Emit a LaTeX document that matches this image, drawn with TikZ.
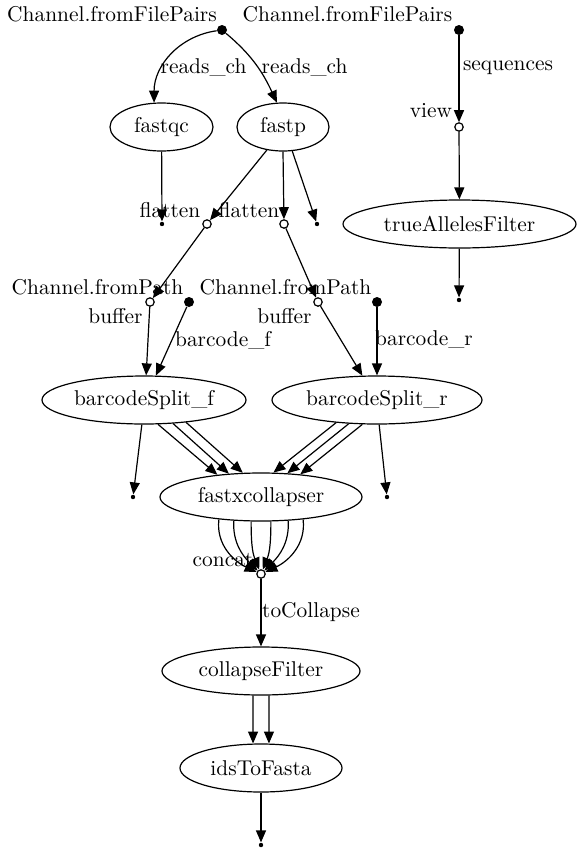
\documentclass[tikz,border=0pt]{standalone}
\usetikzlibrary{arrows.meta,shapes.geometric}
\newcommand{\dagfont}{\fontsize{10.7}{12}\selectfont}
\tikzset{
  proc/.style={draw, ellipse, line width=0.6pt, minimum height=24pt, inner sep=0pt, font=\dagfont},
  src/.style={circle, fill, inner sep=0pt, minimum size=5pt},
  op/.style={circle, draw, fill=white, line width=0.6pt, inner sep=0pt, minimum size=4.2pt},
  sink/.style={circle, fill, inner sep=0pt, minimum size=2.2pt},
  tag/.style={inner sep=0pt, font=\dagfont},
  flow/.style={-{Triangle[length=6pt,width=5pt]}, line width=0.6pt}
}

\begin{document}
\begin{tikzpicture}[x=0.5pt, y=-0.5pt]
  \useasboundingbox (0,0) rectangle (581,852);
  \node[src] (pairsA) at (222,30) {};
  \node[src] (pairsB) at (459,30) {};
  \node[proc, minimum width=51.5pt] (fastqc) at (161.5,127) {fastqc};
  \node[proc, minimum width=46pt] (fastp) at (283,127) {fastp};
  \node[op] (view) at (459,127) {};
  \node[proc, minimum width=116.5pt] (alleles) at (459.5,224) {trueAllelesFilter};
  \node[sink] (qcEnd) at (162,224) {};
  \node[op] (flatA) at (207,224) {};
  \node[op] (flatB) at (284,224) {};
  \node[sink] (fastpEnd) at (317,224) {};
  \node[sink] (allelesEnd) at (459,300) {};
  \node[op] (bufA) at (150,302) {};
  \node[src] (pathA) at (189,302) {};
  \node[op] (bufB) at (318,302) {};
  \node[src] (pathB) at (377,302) {};
  \node[proc, minimum width=102pt] (splitF) at (144,400) {barcodeSplit\_f};
  \node[proc, minimum width=105pt] (splitR) at (377,400) {barcodeSplit\_r};
  \node[sink] (splitFEnd) at (133,497) {};
  \node[proc, minimum width=101pt] (collapser) at (261,497) {fastxcollapser};
  \node[sink] (splitREnd) at (387,497) {};
  \node[op] (concat) at (261,574) {};
  \node[proc, minimum width=99pt] (cfilter) at (261,671) {collapseFilter};
  \node[proc, minimum width=81pt] (tofasta) at (261,768) {idsToFasta};
  \node[sink] (fastaEnd) at (261,845) {};

  \node[tag] (pairsAText) at (112,14) {Channel.fromFilePairs};
  \node[tag] (pairsBText) at (347.5,14) {Channel.fromFilePairs};
  \node[tag] (readsL) at (203.5,68) {reads\_ch};
  \node[tag] (readsR) at (304.5,68) {reads\_ch};
  \node[tag] (seqText) at (508,68) {sequences};
  \node[tag] (viewText) at (431,111) {view};
  \node[tag] (flatAText) at (170,210) {flatten};
  \node[tag] (flatBText) at (249,210) {flatten};
  \node[tag] (pathAText) at (97.5,287) {Channel.fromPath};
  \node[tag] (pathBText) at (285.5,287) {Channel.fromPath};
  \node[tag] (bufAText) at (115.5,316) {buffer};
  \node[tag] (bufBText) at (284.5,316) {buffer};
  \node[tag] (bcFText) at (223,340) {barcode\_f};
  \node[tag] (bcRText) at (424,340) {barcode\_r};
  \node[tag] (concatText) at (223,560) {concat};
  \node[tag] (toCollText) at (311,612) {toCollapse};

  \draw[flow] (pairsA) to[out=188,in=90] (fastqc.107);
  \draw[flow] (pairsA) to[out=-40,in=115] (fastp.104);
  \draw[flow] (pairsB) -- (view);
  \draw[flow] (view) -- (alleles);
  \draw[flow] (fastqc) -- (qcEnd);
  \draw[flow] (fastp.235) -- (flatA);
  \draw[flow] (fastp.-90) -- (flatB);
  \draw[flow] (fastp.-69) -- (fastpEnd);
  \draw[flow] (alleles) -- (allelesEnd);
  \draw[flow] (flatA) -- (bufA);
  \draw[flow] (flatB) -- (bufB);
  \draw[flow] (bufA) -- (splitF.85);
  \draw[flow] (pathA) -- (splitF.64);
  \draw[flow] (bufB) -- (splitR.121);
  \draw[flow] (pathB) -- (splitR.90);
  \draw[flow] (splitF.-95) -- (splitFEnd);
  \draw[flow] (splitF.-60) -- (collapser.153);
  \draw[flow] (splitF.-39) -- (collapser.144);
  \draw[flow] (splitF.-28) -- (collapser.127);
  \draw[flow] (splitR.209) -- (collapser.63);
  \draw[flow] (splitR.220) -- (collapser.42);
  \draw[flow] (splitR.239) -- (collapser.30);
  \draw[flow] (splitR.-85) -- (splitREnd);
  \foreach \a/\o/\i in {208/-97/155, 221.5/-93/135, 248.6/-90/112, -68.6/-90/68, -41.5/-87/45, -28.1/-83/25}
    \draw[flow] (collapser.\a) to[out=\o,in=\i] (concat);
  \draw[flow] (concat) -- (cfilter);
  \draw[flow] (cfilter.-108) -- (tofasta.108);
  \draw[flow] (cfilter.-72) -- (tofasta.72);
  \draw[flow] (tofasta) -- (fastaEnd);
\end{tikzpicture}
\end{document}
